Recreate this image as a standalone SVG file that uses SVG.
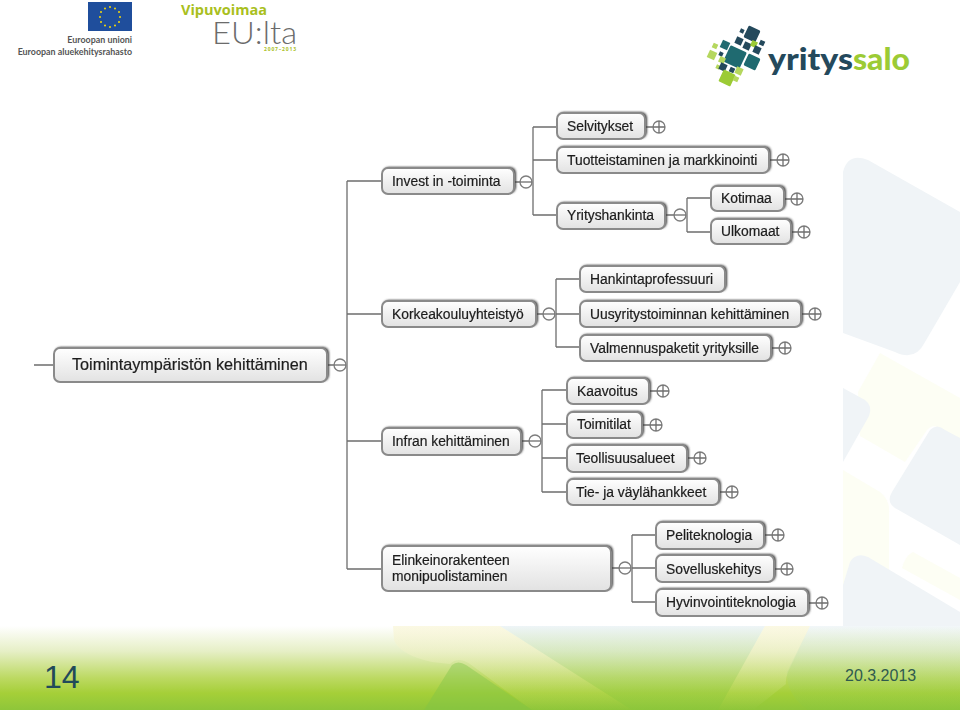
<svg xmlns="http://www.w3.org/2000/svg" width="960" height="710" viewBox="0 0 960 710">
<style>
text{font-family:"Liberation Sans",Arial,sans-serif}
.t{font-size:13.85px;fill:#1c1c1c;stroke:#1c1c1c;stroke-width:.2;filter:url(#sf)}
.n{fill:url(#nf);stroke:#8a8a8a;stroke-width:2}
.s{fill:#3a3a3a;filter:url(#b)}
.c{fill:none;stroke:#6e6e6e;stroke-width:1.3}
.o{fill:#fff;stroke:#7d7d7d;stroke-width:1.3}
.bb{fill:#f0f4f7}
.by{fill:#fdfef4}
.eu{font-family:"Lato",sans-serif;font-size:8.900px;font-weight:700;fill:#555;text-anchor:end}
.d{fill:#24495c}.g{fill:#9ccb35}.k{fill:#1f6a70}.l{fill:#b5d75e}
</style>
<defs>
<linearGradient id="nf" x1="0" y1="0" x2="0" y2="1"><stop offset="0" stop-color="#fff"/><stop offset="1" stop-color="#e2e2e2"/></linearGradient>
<linearGradient id="band" x1="0" y1="0" x2="0" y2="1"><stop offset="0" stop-color="#fff"/><stop offset=".3" stop-color="#e6efc6"/><stop offset=".62" stop-color="#bcd962"/><stop offset=".8" stop-color="#a5cf38"/><stop offset="1" stop-color="#8ec63a"/></linearGradient>
<linearGradient id="ob" x1="0" y1="0" x2="0" y2="1"><stop offset="0" stop-color="#dbe9ef" stop-opacity=".8"/><stop offset=".55" stop-color="#a9d58a" stop-opacity=".45"/><stop offset="1" stop-color="#84c63e" stop-opacity=".4"/></linearGradient>
<linearGradient id="oy" x1="0" y1="0" x2="0" y2="1"><stop offset="0" stop-color="#f7f2c8" stop-opacity=".5"/><stop offset="1" stop-color="#f7f2c8" stop-opacity="0"/></linearGradient>
<filter id="b" x="-10%" y="-30%" width="120%" height="160%"><feGaussianBlur stdDeviation="1"/></filter>
<filter id="sf" x="-5%" y="-20%" width="110%" height="140%"><feGaussianBlur stdDeviation=".35"/></filter>
<g id="plus"><circle class="o" r="6"/><path class="c" d="M-6 0H6M0-6V6"/></g>
<g id="minus"><circle class="o" r="6"/><path class="c" d="M-6 0H6"/></g>
</defs>
<rect width="960" height="710" fill="#fff"/>
<g id="background">
<path class="bb" d="M843 172Q848 152 868 160L960 212V282L925 342Q915 362 895 352L843 333Z"/>
<path class="by" d="M880 353L960 398V445L937 427Q930 424 925 433L905 462L860 436L858 392Z"/>
<path class="bb" d="M843 388L865 400Q873 406 869 416L843 462Z"/>
<path class="bb" d="M930 430Q937 423 945 430L960 438V545L895 508Q886 502 892 492Z"/>
<path class="by" d="M843 470L880 492Q890 500 889 512V626H843Z"/>
<path class="bb" d="M843 585L850 562Q856 552 868 557L960 612V626H843Z"/>
<path class="by" d="M913 552L960 578V600L902 568Q905 556 913 552Z"/>
<rect y="626" width="960" height="84" fill="url(#band)"/>
<path d="M393 626H500L632 710H532L470 664Q458 656 450 664L432 662Q400 655 394 640Z" fill="url(#oy)"/>
<path d="M500 626H765L718 710H632Z" fill="url(#ob)" opacity=".6"/>
<path d="M765 626H810L788 672Q785 680 786 684L753 710H718Z" fill="url(#oy)"/>
<path d="M452 665Q458 660 466 665L532 710H424Z" fill="#7ec447" opacity=".42"/>
<path d="M810 626H960V710H808Q786 695 787 672Z" fill="url(#ob)" opacity=".45"/>
</g>
<g id="logos">
<rect x="88" y="2" width="44" height="29" fill="#1f4e9c"/>
<g fill="#f5d90a"><circle cx="110" cy="7" r="1"/><circle cx="115" cy="8.500" r="1"/><circle cx="119" cy="12" r="1"/><circle cx="120" cy="17" r="1"/><circle cx="119" cy="22" r="1"/><circle cx="115" cy="25.500" r="1"/><circle cx="110" cy="27" r="1"/><circle cx="105" cy="25.500" r="1"/><circle cx="101" cy="22" r="1"/><circle cx="100" cy="17" r="1"/><circle cx="101" cy="12" r="1"/><circle cx="105" cy="8.500" r="1"/></g>
<text class="eu" x="132" y="43">Euroopan unioni</text>
<text class="eu" x="132" y="55">Euroopan aluekehitysrahasto</text>
<text x="181" y="15" font-size="14" font-weight="700" fill="#a9bf1e" style="font-family:'Open Sans',sans-serif" textLength="86" lengthAdjust="spacingAndGlyphs">Vipuvoimaa</text>
<text x="212" y="44" font-size="32" fill="#6b6b6b" style="font-family:'Lato',sans-serif;font-weight:300" textLength="85" lengthAdjust="spacingAndGlyphs">EU:lta</text>
<text x="264" y="51" font-size="5" font-weight="700" fill="#a9bf1e" style="font-family:'Open Sans',sans-serif" textLength="32">2007–2013</text>
</g>
<g id="yrityssalo-logo">
<rect class="d" x="-6.500" y="-6.500" width="13" height="13" rx="1.500" transform="translate(752 34) rotate(25)"/>
<rect class="d" x="-2" y="-2" width="4" height="4" transform="translate(742 31) rotate(25)"/>
<rect class="d" x="-2.500" y="-2.500" width="5" height="5" transform="translate(762 43) rotate(25)"/>
<rect class="d" x="-3.500" y="-3.500" width="7" height="7" transform="translate(739 41) rotate(25)"/>
<rect class="d" x="-3.500" y="-3.500" width="7" height="7" transform="translate(747 46) rotate(25)"/>
<rect class="g" x="-3" y="-3" width="6" height="6" transform="translate(754 44) rotate(25)"/>
<rect class="d" x="-3.500" y="-3.500" width="7" height="7" transform="translate(757 50) rotate(25)"/>
<rect class="k" x="-4" y="-4" width="8" height="8" transform="translate(725 45) rotate(25)"/>
<rect class="l" x="-2.500" y="-2.500" width="5" height="5" transform="translate(715 46) rotate(25)"/>
<rect class="l" x="-4" y="-4" width="8" height="8" transform="translate(712 55) rotate(25)"/>
<rect class="d" x="-2" y="-2" width="4" height="4" transform="translate(721 54) rotate(25)"/>
<rect class="k" x="-9" y="-9" width="18" height="18" rx="1.500" transform="translate(735 57) rotate(25)"/>
<rect class="k" x="-6.500" y="-6.500" width="13" height="13" rx="1.500" transform="translate(752 62) rotate(25)"/>
<rect class="l" x="-3" y="-3" width="6" height="6" transform="translate(722 60) rotate(25)"/>
<rect class="l" x="-2" y="-2" width="4" height="4" transform="translate(718 67) rotate(25)"/>
<rect class="d" x="-3.500" y="-3.500" width="7" height="7" transform="translate(723 67) rotate(25)"/>
<rect class="d" x="-2.500" y="-2.500" width="5" height="5" transform="translate(732 70) rotate(25)"/>
<rect class="l" x="-3.500" y="-3.500" width="7" height="7" transform="translate(739 71) rotate(25)"/>
<rect class="g" x="-6.500" y="-6.500" width="13" height="13" rx="1" transform="translate(727 78) rotate(25)"/>
<rect class="l" x="-2.500" y="-2.500" width="5" height="5" transform="translate(736 79) rotate(25)"/>
<text x="768" y="70" font-size="30" font-weight="900" fill="#24495c" style="font-family:'Lato',sans-serif" textLength="85" lengthAdjust="spacingAndGlyphs">yritys</text>
<text x="853" y="70" font-size="30" font-weight="900" fill="#9ccb35" style="font-family:'Lato',sans-serif" textLength="57" lengthAdjust="spacingAndGlyphs">salo</text>
</g>
<g id="connectors">
<path class="c" d="M34 365H54M328 365H334M347 181V569M347 181H382M347 314H382M347 441H382M347 569H382"/>
<path class="c" d="M515 182H520M533 127V215M533 127H557M533 160H557M533 215H557M666 215H674M687 198V232M687 198H711M687 232H711"/>
<path class="c" d="M537 314H543M556 279V347M556 279H580M556 314H580M556 347H580"/>
<path class="c" d="M522 441H529M542 390V492M542 390H567M542 424H567M542 458H567M542 492H567"/>
<path class="c" d="M612 568H619M632 535V602M632 535H656M632 568H656M632 602H656"/>
<path class="c" d="M646 127H653M770 160H777M785 199H791M792 232H798M802 314H809M772 348H779M650 391H657M643 425H650M688 458H694M720 492H726M765 535H772M775 569H781M809 603H816"/>
</g>
<g id="toggles">
<use href="#minus" x="340" y="365"/><use href="#minus" x="526" y="182"/><use href="#minus" x="680" y="215"/><use href="#minus" x="549" y="314"/><use href="#minus" x="535" y="441"/><use href="#minus" x="625" y="568"/>
<use href="#plus" x="659" y="127"/><use href="#plus" x="783" y="160"/><use href="#plus" x="797" y="199"/><use href="#plus" x="804" y="232"/><use href="#plus" x="815" y="314"/><use href="#plus" x="785" y="348"/><use href="#plus" x="663" y="391"/><use href="#plus" x="656" y="425"/><use href="#plus" x="700" y="458"/><use href="#plus" x="732" y="492"/><use href="#plus" x="778" y="535"/><use href="#plus" x="787" y="569"/><use href="#plus" x="822" y="603"/>
</g>
<g id="root"><rect class="s" x="55" y="347" width="274" height="34" rx="6"/><rect class="n" x="54" y="348" width="273" height="34" rx="6"/><text class="t" x="72" y="370" style="font-size:16.200px">Toimintaympäristön kehittäminen</text></g>
<g id="invest"><rect class="s" x="383" y="167" width="133" height="26" rx="6"/><rect class="n" x="382" y="168" width="132" height="26" rx="6"/><text class="t" x="392" y="186">Invest in -toiminta</text></g>
<g id="selvitykset"><rect class="s" x="558" y="112" width="89" height="26" rx="6"/><rect class="n" x="557" y="113" width="88" height="26" rx="6"/><text class="t" x="567" y="131">Selvitykset</text></g>
<g id="tuotteistaminen"><rect class="s" x="558" y="146" width="213" height="26" rx="6"/><rect class="n" x="557" y="147" width="212" height="26" rx="6"/><text class="t" x="567" y="165">Tuotteistaminen ja markkinointi</text></g>
<g id="yrityshankinta"><rect class="s" x="558" y="202" width="109" height="26" rx="6"/><rect class="n" x="557" y="203" width="108" height="26" rx="6"/><text class="t" x="567" y="220">Yrityshankinta</text></g>
<g id="kotimaa"><rect class="s" x="712" y="185" width="74" height="25" rx="6"/><rect class="n" x="711" y="186" width="73" height="25" rx="6"/><text class="t" x="721" y="203">Kotimaa</text></g>
<g id="ulkomaat"><rect class="s" x="712" y="218" width="81" height="25" rx="6"/><rect class="n" x="711" y="219" width="80" height="25" rx="6"/><text class="t" x="721" y="236">Ulkomaat</text></g>
<g id="korkeakoulu"><rect class="s" x="383" y="300" width="155" height="26" rx="6"/><rect class="n" x="382" y="301" width="154" height="26" rx="6"/><text class="t" x="392" y="319">Korkeakouluyhteistyö</text></g>
<g id="hankinta"><rect class="s" x="581" y="265" width="146" height="26" rx="6"/><rect class="n" x="580" y="266" width="145" height="26" rx="6"/><text class="t" x="590" y="284">Hankintaprofessuuri</text></g>
<g id="uusyritys"><rect class="s" x="581" y="300" width="222" height="26" rx="6"/><rect class="n" x="580" y="301" width="221" height="26" rx="6"/><text class="t" x="590" y="319">Uusyritystoiminnan kehittäminen</text></g>
<g id="valmennus"><rect class="s" x="581" y="334" width="192" height="26" rx="6"/><rect class="n" x="580" y="335" width="191" height="26" rx="6"/><text class="t" x="590" y="353">Valmennuspaketit yrityksille</text></g>
<g id="infran"><rect class="s" x="383" y="427" width="140" height="27" rx="6"/><rect class="n" x="382" y="428" width="139" height="27" rx="6"/><text class="t" x="392" y="446">Infran kehittäminen</text></g>
<g id="kaavoitus"><rect class="s" x="568" y="377" width="83" height="26" rx="6"/><rect class="n" x="567" y="378" width="82" height="26" rx="6"/><text class="t" x="577" y="396">Kaavoitus</text></g>
<g id="toimitilat"><rect class="s" x="568" y="411" width="76" height="26" rx="6"/><rect class="n" x="567" y="412" width="75" height="26" rx="6"/><text class="t" x="577" y="429">Toimitilat</text></g>
<g id="teollisuus"><rect class="s" x="568" y="444" width="121" height="27" rx="6"/><rect class="n" x="567" y="445" width="120" height="27" rx="6"/><text class="t" x="576" y="463">Teollisuusalueet</text></g>
<g id="tie"><rect class="s" x="568" y="478" width="153" height="26" rx="6"/><rect class="n" x="567" y="479" width="152" height="26" rx="6"/><text class="t" x="576" y="497">Tie- ja väylähankkeet</text></g>
<g id="elinkeino"><rect class="s" x="383" y="545" width="230" height="45" rx="6"/><rect class="n" x="382" y="546" width="229" height="45" rx="6"/><text class="t" x="392" y="565">Elinkeinorakenteen</text><text class="t" x="392" y="581">monipuolistaminen</text></g>
<g id="peli"><rect class="s" x="657" y="521" width="109" height="27" rx="6"/><rect class="n" x="656" y="522" width="108" height="27" rx="6"/><text class="t" x="666" y="540">Peliteknologia</text></g>
<g id="sovellus"><rect class="s" x="657" y="554" width="119" height="27" rx="6"/><rect class="n" x="656" y="555" width="118" height="27" rx="6"/><text class="t" x="666" y="574">Sovelluskehitys</text></g>
<g id="hyvinvointi"><rect class="s" x="657" y="588" width="153" height="27" rx="6"/><rect class="n" x="656" y="589" width="152" height="27" rx="6"/><text class="t" x="666" y="607">Hyvinvointiteknologia</text></g>
<text id="page" x="44" y="688" font-size="32" fill="#214a5a">14</text>
<text id="date" x="845" y="681" font-size="16" fill="#2f5a4e">20.3.2013</text>
</svg>
